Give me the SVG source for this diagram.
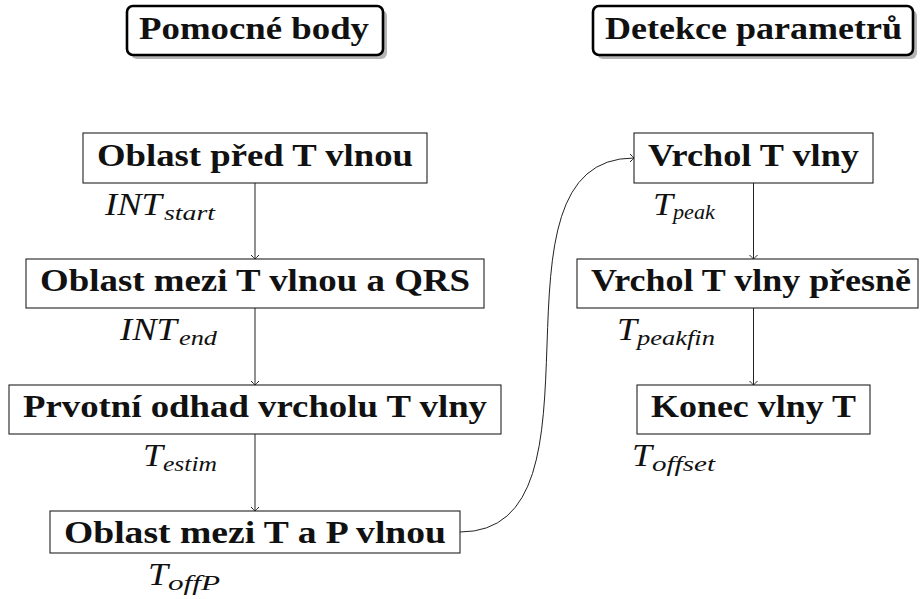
<svg xmlns="http://www.w3.org/2000/svg" width="920" height="599" viewBox="0 0 920 599">
<style>
.box{fill:#fff;stroke:#222;stroke-width:1.1}
.bt{font-family:'Times New Roman','DejaVu Serif',serif;font-weight:bold;font-size:31px;fill:#111}
.title{fill:#fff;stroke:#000;stroke-width:2.6}
.shadow{fill:#b5b5b5}
.lab{font-family:'Times New Roman','DejaVu Serif',serif;font-style:italic;font-size:31px;fill:#111}
.sub{font-family:'Times New Roman','DejaVu Serif',serif;font-style:italic;font-size:21.5px;fill:#111}
.con{fill:none;stroke:#222;stroke-width:1}
</style>
<defs>
<marker id="arr" markerUnits="userSpaceOnUse" viewBox="-6 -6 8 12" markerWidth="8" markerHeight="12" refX="0" refY="0" orient="auto">
<path d="M-4,-4 Q-1,-1 0,0 Q-1,1 -4,4" fill="none" stroke="#222" stroke-width="1"/>
</marker>
</defs>
<rect width="920" height="599" fill="#fff"/>
<g id="title-pomocne">
<rect class="shadow" x="131" y="10" width="256" height="49" rx="6"/>
<rect class="title" x="127" y="6" width="256" height="49" rx="6"/>
<text class="bt" x="139" y="39" textLength="230" lengthAdjust="spacingAndGlyphs">Pomocné body</text>
</g>
<g id="title-detekce">
<rect class="shadow" x="597" y="10" width="320" height="49" rx="6"/>
<rect class="title" x="593" y="6" width="320" height="49" rx="6"/>
<text class="bt" x="605" y="39" textLength="297" lengthAdjust="spacingAndGlyphs">Detekce parametrů</text>
</g>
<g id="connectors">
<line class="con" x1="255" y1="183" x2="255" y2="259" marker-end="url(#arr)"/>
<line class="con" x1="255" y1="308" x2="255" y2="385" marker-end="url(#arr)"/>
<line class="con" x1="255" y1="434" x2="255" y2="511" marker-end="url(#arr)"/>
<line class="con" x1="753.5" y1="183" x2="753.5" y2="259" marker-end="url(#arr)"/>
<line class="con" x1="753.5" y1="308" x2="753.5" y2="385" marker-end="url(#arr)"/>
<path class="con" d="M460,532 C621,532 473,158 634,158" marker-end="url(#arr)"/>
</g>
<g id="n1">
<rect class="box" x="83" y="133" width="344" height="50"/>
<text class="bt" x="97" y="166" textLength="316" lengthAdjust="spacingAndGlyphs">Oblast před T vlnou</text>
<text class="lab" x="105" y="215" textLength="57" lengthAdjust="spacingAndGlyphs">INT</text>
<text class="sub" x="164" y="220" textLength="51" lengthAdjust="spacingAndGlyphs">start</text>
</g>
<g id="n2">
<rect class="box" x="26" y="259" width="458" height="49"/>
<text class="bt" x="40" y="291" textLength="430" lengthAdjust="spacingAndGlyphs">Oblast mezi T vlnou a QRS</text>
<text class="lab" x="120" y="340" textLength="57" lengthAdjust="spacingAndGlyphs">INT</text>
<text class="sub" x="179" y="345" textLength="38" lengthAdjust="spacingAndGlyphs">end</text>
</g>
<g id="n3">
<rect class="box" x="9" y="385" width="492" height="49"/>
<text class="bt" x="23" y="417" textLength="464" lengthAdjust="spacingAndGlyphs">Prvotní odhad vrcholu T vlny</text>
<text class="lab" x="143" y="466" textLength="20" lengthAdjust="spacingAndGlyphs">T</text>
<text class="sub" x="163" y="471" textLength="54" lengthAdjust="spacingAndGlyphs">estim</text>
</g>
<g id="n4">
<rect class="box" x="50" y="511" width="410" height="42"/>
<text class="bt" x="64" y="543" textLength="382" lengthAdjust="spacingAndGlyphs">Oblast mezi T a P vlnou</text>
<text class="lab" x="148" y="585" textLength="20" lengthAdjust="spacingAndGlyphs">T</text>
<text class="sub" x="168" y="590" textLength="52" lengthAdjust="spacingAndGlyphs">offP</text>
</g>
<g id="n5">
<rect class="box" x="634" y="133" width="239" height="50"/>
<text class="bt" x="648" y="166" textLength="211" lengthAdjust="spacingAndGlyphs">Vrchol T vlny</text>
<text class="lab" x="653" y="215" textLength="20" lengthAdjust="spacingAndGlyphs">T</text>
<text class="sub" x="673" y="219" textLength="42" lengthAdjust="spacingAndGlyphs">peak</text>
</g>
<g id="n6">
<rect class="box" x="577" y="259" width="341" height="49"/>
<text class="bt" x="591" y="291" textLength="320" lengthAdjust="spacingAndGlyphs">Vrchol T vlny přesně</text>
<text class="lab" x="617" y="340" textLength="20" lengthAdjust="spacingAndGlyphs">T</text>
<text class="sub" x="637" y="345" textLength="78" lengthAdjust="spacingAndGlyphs">peakfin</text>
</g>
<g id="n7">
<rect class="box" x="637" y="385" width="233" height="49"/>
<text class="bt" x="651" y="417" textLength="205" lengthAdjust="spacingAndGlyphs">Konec vlny T</text>
<text class="lab" x="632" y="466" textLength="20" lengthAdjust="spacingAndGlyphs">T</text>
<text class="sub" x="652" y="471" textLength="63" lengthAdjust="spacingAndGlyphs">offset</text>
</g>
</svg>
